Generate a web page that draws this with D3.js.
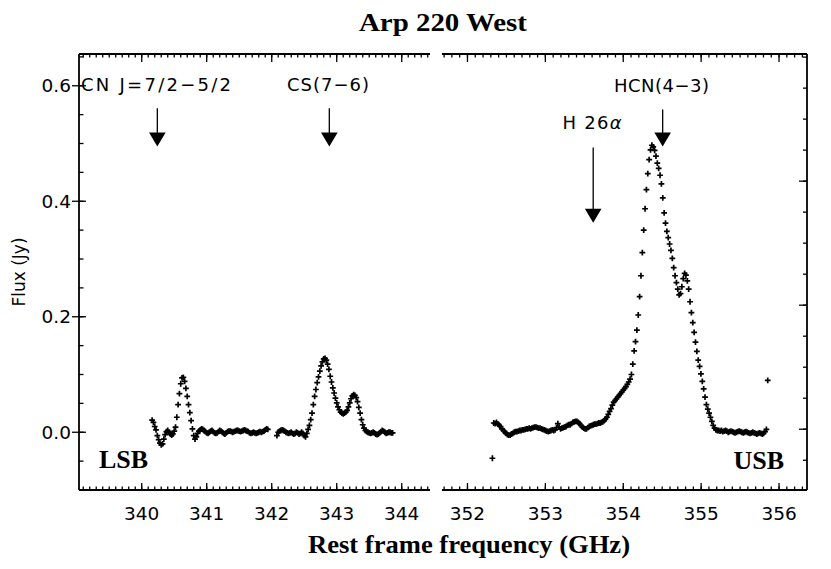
<!DOCTYPE html>
<html>
<head>
<meta charset="utf-8">
<script src="https://cdn.jsdelivr.net/npm/d3@7"></script>
<style>
  body { margin: 0; background: #fff; }
  text { fill: #000; }
</style>
</head>
<body>
<svg id="chart" width="831" height="569"></svg>
<script>
// LSB spectrum, two contiguous chunks (GHz start, channel step, flux in Jy)
var lsbStart1 = 340.16;
var lsbStart2 = 342.08;
var lsbStep = 0.02;
var lsbFlux1 = [
  0.021, 0.017, 0.010, 0.004, -0.006, -0.013, -0.019, -0.022, -0.020, -0.012,
  -0.004, 0.001, 0.003, 0.000, -0.003, -0.005, -0.003, 0.002, 0.009, 0.026,
  0.048, 0.067, 0.084, 0.094, 0.095, 0.088, 0.076, 0.062, 0.048, 0.034,
  0.020, 0.006, -0.006, -0.012, -0.008, -0.002, 0.002, 0.004, 0.006, 0.005,
  0.003, 0.001, -0.001, -0.002, 0.000, 0.002, 0.003, 0.001, -0.001, -0.002,
  -0.001, 0.001, 0.003, 0.002, 0.000, -0.002, -0.003, -0.001, 0.001, 0.002,
  0.002, 0.001, 0.000, 0.001, 0.002, 0.003, 0.003, 0.002, 0.001, 0.002,
  0.003, 0.004, 0.003, 0.002, 0.001, -0.001, -0.002, -0.001, 0.000, -0.001,
  -0.002, -0.001, 0.000, 0.001, 0.000, 0.001, 0.002, 0.004, 0.006, 0.005
];
var lsbFlux2 = [
  -0.006, 0.000, 0.002, 0.003, 0.004, 0.003, 0.002, 0.000, -0.001, -0.002,
  -0.001, 0.000, -0.002, -0.003, -0.002, 0.000, -0.001, -0.003, -0.002, 0.000,
  -0.002, -0.006, -0.008, -0.002, 0.005, 0.012, 0.022, 0.033, 0.048, 0.062,
  0.074, 0.086, 0.096, 0.106, 0.115, 0.122, 0.127, 0.128, 0.125, 0.118,
  0.109, 0.097, 0.087, 0.077, 0.068, 0.059, 0.051, 0.044, 0.039, 0.035,
  0.033, 0.032, 0.033, 0.035, 0.038, 0.044, 0.051, 0.058, 0.063, 0.065,
  0.064, 0.060, 0.053, 0.043, 0.033, 0.022, 0.013, 0.007, 0.003, 0.001,
  0.000, -0.001, -0.002, -0.001, 0.000, -0.001, -0.003, -0.004, -0.003, -0.001,
  0.001, 0.003, 0.002, 0.000, -0.002, -0.001, 0.000, 0.000, -0.001, -0.001
];

// USB spectrum
var usbStart = 352.32;
var usbStep = 0.0175;
var usbFlux = [
  -0.045, 0.016, 0.015, 0.017, 0.014, 0.012, 0.010, 0.006, 0.003, 0.001,
  -0.002, -0.004, -0.005, -0.005, -0.003, -0.002, 0.000, 0.001, 0.001, 0.002,
  0.003, 0.003, 0.004, 0.004, 0.005, 0.006, 0.006, 0.007, 0.006, 0.007,
  0.008, 0.009, 0.009, 0.008, 0.007, 0.007, 0.006, 0.005, 0.004, 0.003,
  0.002, 0.001, 0.002, 0.003, 0.004, 0.003, 0.004, 0.008, 0.015, 0.009,
  0.006, 0.007, 0.008, 0.009, 0.010, 0.012, 0.013, 0.013, 0.015, 0.017,
  0.018, 0.019, 0.019, 0.017, 0.015, 0.012, 0.009, 0.007, 0.006, 0.006,
  0.008, 0.010, 0.011, 0.012, 0.013, 0.014, 0.014, 0.015, 0.016, 0.016,
  0.017, 0.018, 0.020, 0.023, 0.026, 0.031, 0.036, 0.041, 0.047, 0.052,
  0.055, 0.058, 0.061, 0.064, 0.067, 0.070, 0.073, 0.076, 0.079, 0.083,
  0.087, 0.092, 0.100, 0.118, 0.141, 0.157, 0.177, 0.203, 0.235, 0.271,
  0.311, 0.350, 0.387, 0.420, 0.448, 0.472, 0.489, 0.497, 0.494, 0.488,
  0.478, 0.466, 0.457, 0.445, 0.430, 0.406, 0.380, 0.362, 0.348, 0.337,
  0.326, 0.315, 0.301, 0.285, 0.271, 0.259, 0.248, 0.238, 0.240, 0.252,
  0.266, 0.275, 0.272, 0.262, 0.248, 0.226, 0.207, 0.190, 0.173, 0.156,
  0.140, 0.125, 0.114, 0.101, 0.088, 0.075, 0.061, 0.048, 0.040, 0.033,
  0.026, 0.019, 0.012, 0.007, 0.004, 0.003, 0.003, 0.002, 0.003, 0.001,
  0.002, 0.003, 0.002, 0.000, 0.001, 0.002, 0.001, 0.000, -0.001, 0.000,
  0.001, 0.002, 0.001, 0.000, -0.001, 0.000, 0.001, 0.000, -0.001, -0.002,
  -0.001, 0.000, -0.001, -0.002, -0.003, -0.002, -0.001, -0.002, -0.003, -0.002,
  0.001, 0.005, 0.090
];

var lsbTicks = [340, 341, 342, 343, 344];
var usbTicks = [352, 353, 354, 355, 356];
var fluxTicks = [0.0, 0.2, 0.4, 0.6];
var fluxTickLabels = ['0.0', '0.2', '0.4', '0.6'];
var rightTicks = [0.0, 0.2, 0.4];

// line identifications: arrow from `top` down to `tip` (Jy), label above
var lineIds = [
  { band: 'lsb', text: 'CN J=7/2\u22125/2', freq: 340.24, labelFreq: 340.22, labelFlux: 0.591, top: 0.561, tip: 0.495, width: 150 },
  { band: 'lsb', text: 'CS(7\u22126)', freq: 342.886, labelFreq: 342.866, labelFlux: 0.591, top: 0.561, tip: 0.495, width: 82 },
  { band: 'usb', text: 'HCN(4\u22123)', freq: 354.506, labelFreq: 354.49, labelFlux: 0.589, top: 0.559, tip: 0.495, width: 95 },
  { band: 'usb', text: 'H 26', greek: '\u03b1', freq: 353.614, labelFreq: 353.60, labelFlux: 0.525, top: 0.493, tip: 0.363, width: 59 }
];

var svg = d3.select('#chart');
var sans = "'DejaVu Sans', sans-serif";
var serif = "'Liberation Serif', 'Times New Roman', serif";

var frameTop = 54;
var frameBottom = 490;
var y = d3.scaleLinear().domain([-0.1, 0.655]).range([frameBottom, frameTop]);
var yRight = d3.scaleLinear().domain([-0.098, 0.605]).range([frameBottom, frameTop]);
var xLsb = d3.scaleLinear().domain([339.035, 344.435]).range([79, 430]);
var xUsb = d3.scaleLinear().domain([351.673, 356.359]).range([442, 807]);

function channels(start, step, flux) {
  return flux.map(function (v, i) {
    return { f: start + i * step, v: v };
  });
}

function minorValues(scale, step) {
  var d = scale.domain();
  var lo = Math.ceil(d[0] / step - 1e-6);
  var hi = Math.floor(d[1] / step + 1e-6);
  return d3.range(lo, hi + 1).map(function (k) { return +(k * step).toFixed(4); });
}

function drawTicks(root, values, attrs) {
  root.selectAll(null)
    .data(values)
    .enter()
    .append('line')
    .attr('x1', attrs.x1)
    .attr('x2', attrs.x2)
    .attr('y1', attrs.y1)
    .attr('y2', attrs.y2)
    .attr('stroke', '#000')
    .attr('stroke-width', 1.3);
}

function drawXPanel(x, majors) {
  var g = svg.append('g').classed('x-panel', true);
  var minors = minorValues(x, 0.1);
  var px = function (d) { return x(d); };

  g.append('line')
    .attr('x1', x.range()[0]).attr('x2', x.range()[1])
    .attr('y1', frameBottom).attr('y2', frameBottom)
    .attr('stroke', '#000').attr('stroke-width', 1.8);
  g.append('line')
    .attr('x1', x.range()[0]).attr('x2', x.range()[1])
    .attr('y1', frameTop).attr('y2', frameTop)
    .attr('stroke', '#000').attr('stroke-width', 1.8);

  drawTicks(g, minors, { x1: px, x2: px, y1: frameBottom, y2: frameBottom - 3.5 });
  drawTicks(g, majors, { x1: px, x2: px, y1: frameBottom, y2: frameBottom - 7 });
  drawTicks(g, minors, { x1: px, x2: px, y1: frameTop, y2: frameTop + 3.5 });
  drawTicks(g, majors, { x1: px, x2: px, y1: frameTop, y2: frameTop + 8 });

  g.selectAll('.tick-label')
    .data(majors)
    .enter()
    .append('text')
    .classed('tick-label', true)
    .attr('x', px)
    .attr('y', 519.5)
    .attr('text-anchor', 'middle')
    .style('font-family', sans)
    .style('font-size', '18.5px')
    .text(function (d) { return d; });
}

function drawSpectrum(x, points) {
  svg.append('g')
    .classed('spectrum', true)
    .selectAll('path')
    .data(points)
    .enter()
    .append('path')
    .attr('transform', function (d) { return 'translate(' + x(d.f) + ',' + y(d.v) + ')'; })
    .attr('d', 'M-2.9,0H2.9M0,-2.9V2.9')
    .attr('stroke', '#000')
    .attr('stroke-width', 1.7)
    .attr('fill', 'none');
}

drawXPanel(xLsb, lsbTicks);
drawXPanel(xUsb, usbTicks);

// left flux axis
var yAxis = svg.append('g').classed('y-axis', true);
var py = function (d) { return y(d); };
yAxis.append('line')
  .attr('x1', 79).attr('x2', 79).attr('y1', frameTop).attr('y2', frameBottom)
  .attr('stroke', '#000').attr('stroke-width', 1.8);
drawTicks(yAxis, minorValues(y, 0.05), { x1: 79, x2: 83.5, y1: py, y2: py });
drawTicks(yAxis, fluxTicks, { x1: 72, x2: 86, y1: py, y2: py });
yAxis.selectAll('.tick-label')
  .data(fluxTicks)
  .enter()
  .append('text')
  .classed('tick-label', true)
  .attr('x', 71)
  .attr('y', function (d) { return y(d) + 6.5; })
  .attr('text-anchor', 'end')
  .style('font-family', sans)
  .style('font-size', '18.5px')
  .text(function (d, i) { return fluxTickLabels[i]; });

// right axis (unlabelled)
var rAxis = svg.append('g').classed('right-axis', true);
var pr = function (d) { return yRight(d); };
rAxis.append('line')
  .attr('x1', 807).attr('x2', 807).attr('y1', frameTop).attr('y2', frameBottom)
  .attr('stroke', '#000').attr('stroke-width', 1.8);
drawTicks(rAxis, minorValues(yRight, 0.05), { x1: 807, x2: 803, y1: pr, y2: pr });
drawTicks(rAxis, rightTicks, { x1: 807, x2: 799, y1: pr, y2: pr });

drawSpectrum(xLsb, channels(lsbStart1, lsbStep, lsbFlux1));
drawSpectrum(xLsb, channels(lsbStart2, lsbStep, lsbFlux2));
drawSpectrum(xUsb, channels(usbStart, usbStep, usbFlux));

// line identifications
var ids = svg.append('g').classed('line-ids', true)
  .selectAll('g')
  .data(lineIds)
  .enter()
  .append('g');

function xFor(d, f) {
  return (d.band === 'lsb' ? xLsb : xUsb)(f);
}

ids.append('line')
  .attr('x1', function (d) { return xFor(d, d.freq); })
  .attr('x2', function (d) { return xFor(d, d.freq); })
  .attr('y1', function (d) { return y(d.top); })
  .attr('y2', function (d) { return y(d.tip) - 12; })
  .attr('stroke', '#000')
  .attr('stroke-width', 1.3);

ids.append('path')
  .attr('d', function (d) {
    var cx = xFor(d, d.freq);
    var ty = y(d.tip);
    return 'M' + (cx - 8.3) + ',' + (ty - 14) + 'L' + (cx + 8.3) + ',' + (ty - 14) + 'L' + cx + ',' + ty + 'Z';
  })
  .attr('fill', '#000');

var idLabels = ids.append('text')
  .attr('x', function (d) { return xFor(d, d.labelFreq); })
  .attr('y', function (d) { return y(d.labelFlux); })
  .attr('text-anchor', 'middle')
  .attr('textLength', function (d) { return d.width; })
  .attr('lengthAdjust', 'spacing')
  .style('font-family', sans)
  .style('font-size', '18px')
  .text(function (d) { return d.text; });

idLabels.filter(function (d) { return d.greek; })
  .append('tspan')
  .style('font-style', 'italic')
  .text(function (d) { return d.greek; });

// sideband tags
svg.append('text')
  .attr('x', 99).attr('y', 467.5)
  .style('font-family', serif).style('font-weight', 'bold').style('font-size', '26px')
  .text('LSB');
svg.append('text')
  .attr('x', 784).attr('y', 468.5)
  .attr('text-anchor', 'end')
  .style('font-family', serif).style('font-weight', 'bold').style('font-size', '26px')
  .text('USB');

// titles
svg.append('text')
  .attr('x', 443).attr('y', 31)
  .attr('text-anchor', 'middle')
  .attr('textLength', 168)
  .attr('lengthAdjust', 'spacingAndGlyphs')
  .style('font-family', serif).style('font-weight', 'bold').style('font-size', '26px')
  .text('Arp 220 West');

svg.append('text')
  .attr('x', 469).attr('y', 553)
  .attr('text-anchor', 'middle')
  .attr('textLength', 322)
  .attr('lengthAdjust', 'spacingAndGlyphs')
  .style('font-family', serif).style('font-weight', 'bold').style('font-size', '25px')
  .text('Rest frame frequency (GHz)');

svg.append('text')
  .attr('transform', 'translate(25,272) rotate(-90)')
  .attr('text-anchor', 'middle')
  .style('font-family', sans)
  .style('font-size', '17px')
  .text('Flux (Jy)');
</script>
</body>
</html>
